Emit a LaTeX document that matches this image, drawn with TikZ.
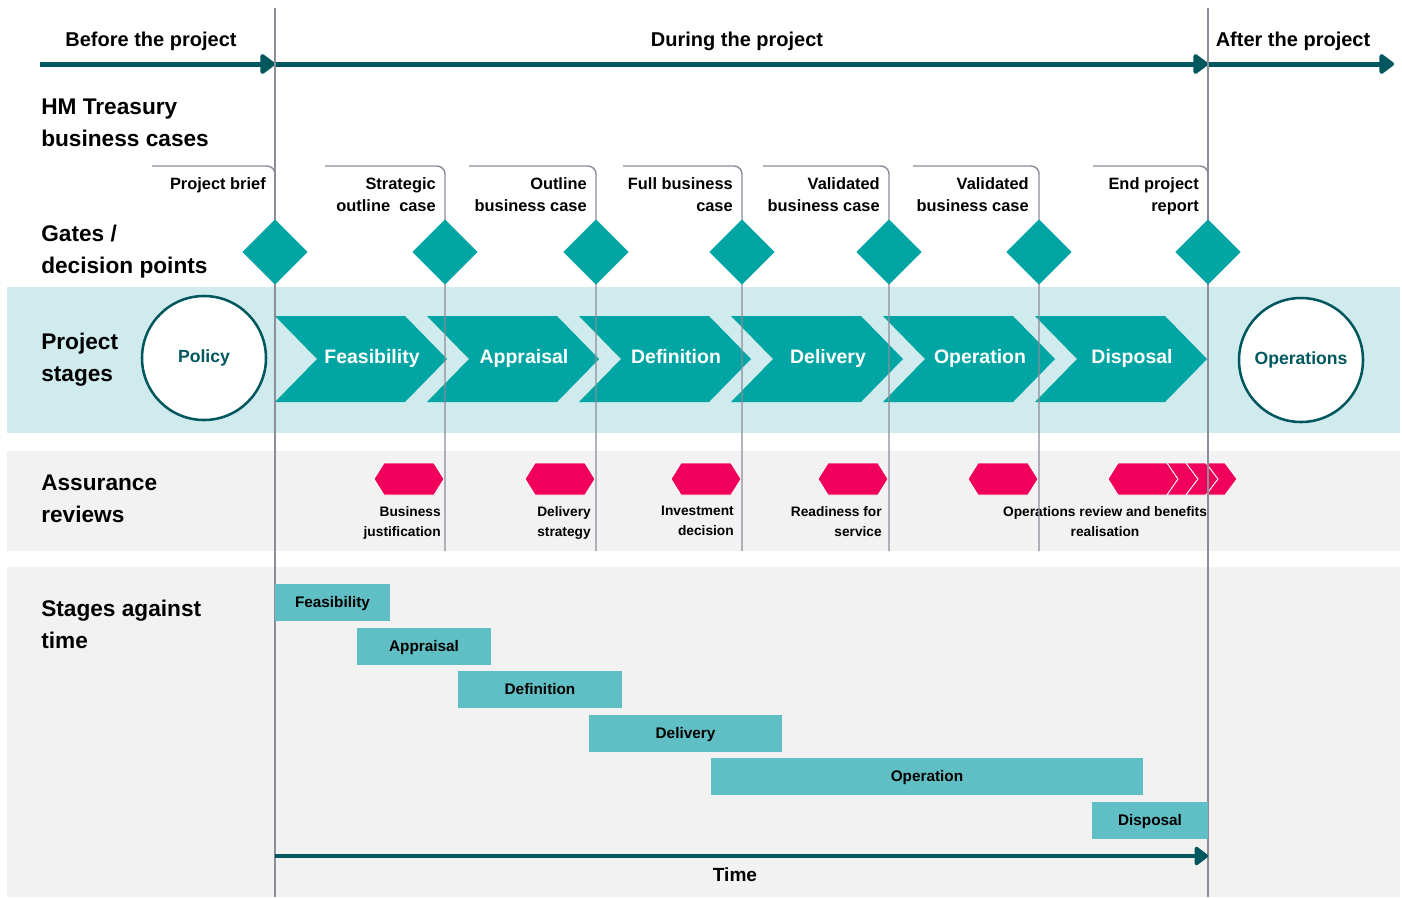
\documentclass[tikz,border=0pt]{standalone}
\usepackage{fontspec}
\setmainfont{Liberation Sans}
\usepackage{tikz}
\usetikzlibrary{shapes.geometric}
\usetikzlibrary{arrows.meta, positioning}

\definecolor{darkteal}{RGB}{0,88,94}
\definecolor{gateteal}{RGB}{0,165,164}
\definecolor{stageband}{RGB}{207,235,237}
\definecolor{greyband}{RGB}{242,242,242}
\definecolor{barteal}{RGB}{95,191,196}
\definecolor{reviewred}{RGB}{240,0,90}
\definecolor{linegrey}{RGB}{142,140,152}

\begin{document}
\begin{tikzpicture}[x = 0.75pt, y = -0.75pt, node distance = 114pt,
	phase/.style		= {font = \fontsize{15}{18}\selectfont\bfseries, inner sep = 0pt, text height = 10.7pt, text depth = 0pt},
	phasearrow/.style	= {darkteal, line width = 3.75pt, -{Triangle[round, length = 12pt, width = 17pt]}},
	timearrow/.style	= {darkteal, line width = 3pt, -{Triangle[round, length = 11pt, width = 16pt]}},
	rowlabel/.style		= {font = \fontsize{17}{24}\selectfont\bfseries, align = left, anchor = north west, inner sep = 0pt},
	gate/.style			= {diamond, fill = gateteal, minimum width = 49pt, minimum height = 49pt, inner sep = 0pt},
	gateline/.style		= {draw = linegrey, line width = 1.1pt},
	gatetext/.style		= {font = \fontsize{12.3}{16.5}\selectfont\bfseries, align = right, anchor = north east, inner sep = 0pt},
	stagename/.style	= {font = \fontsize{14.6}{17}\selectfont\bfseries, text = white, inner sep = 0pt, text height = 10.5pt, text depth = 0pt},
	review/.style		= {fill = reviewred, draw = white, line width = 0.6pt},
	reviewtext/.style	= {font = \fontsize{10.3}{15}\selectfont\bfseries, align = right, anchor = north east, inner sep = 0pt},
	ring/.style			= {circle, draw = darkteal, line width = 1.9pt, fill = white, minimum size = 93pt, inner sep = 0pt,
						   text = darkteal, font = \fontsize{13.2}{16}\selectfont\bfseries, text height = 9.5pt, text depth = 3pt},
	timebar/.style		= {fill = barteal, minimum height = 27.75pt, inner sep = 0pt,
						   font = \fontsize{11.5}{14}\selectfont\bfseries, text height = 8.2pt, text depth = 0pt}]

\useasboundingbox (0,0) rectangle (1402,897);

% background bands
\fill[stageband]	(7,287) rectangle (1400,433);
\fill[greyband]		(7,451) rectangle (1400,551);
\fill[greyband]		(7,567) rectangle (1400,897);

% before / during / after
\node[phase]	(before)	at (151,39)		{Before the project};
\node[phase]	(during)	at (737,39)		{During the project};
\node[phase]	(after)		at (1293,39)	{After the project};

\coordinate (a0) at (40,64);
\coordinate (a1) at (275,64);
\coordinate (a2) at (1208,64);
\coordinate (a3) at (1394,64);
\draw[phasearrow]	(a0) -- (a1);
\draw[phasearrow]	(a1) -- (a2);
\draw[phasearrow]	(a2) -- (a3);

% row headings
\node[rowlabel]	(hmt)		at (41,99)		{HM Treasury\\business cases};
\node[rowlabel]	(gates)		at (41,225)		{Gates /\\decision points};
\node[rowlabel]	(stages)	at (41,333)		{Project\\stages};
\node[rowlabel]	(assure)	at (41,475)		{Assurance\\reviews};
\node[rowlabel]	(sat)		at (41,600)		{Stages against\\time};

% stage chevrons
\fill[gateteal] (275,316)	-- ++(130,0) -- ++(42,43) -- ++(-42,43) -- ++(-130,0) -- ++(42,-43) -- cycle;
\fill[gateteal] (427,316)	-- ++(130,0) -- ++(42,43) -- ++(-42,43) -- ++(-130,0) -- ++(42,-43) -- cycle;
\fill[gateteal] (579,316)	-- ++(130,0) -- ++(42,43) -- ++(-42,43) -- ++(-130,0) -- ++(42,-43) -- cycle;
\fill[gateteal] (731,316)	-- ++(130,0) -- ++(42,43) -- ++(-42,43) -- ++(-130,0) -- ++(42,-43) -- cycle;
\fill[gateteal] (883,316)	-- ++(130,0) -- ++(42,43) -- ++(-42,43) -- ++(-130,0) -- ++(42,-43) -- cycle;
\fill[gateteal] (1035,316)	-- ++(130,0) -- ++(42,43) -- ++(-42,43) -- ++(-130,0) -- ++(42,-43) -- cycle;

\node[stagename]	(feas)						at (372,356)	{Feasibility};
\node[stagename]	(appr)	[right of=feas]						{Appraisal};
\node[stagename]	(defn)	[right of=appr]						{Definition};
\node[stagename]	(delv)	[right of=defn]						{Delivery};
\node[stagename]	(oper)	[right of=delv]						{Operation};
\node[stagename]	(disp)	[right of=oper]						{Disposal};

% assurance reviews
\filldraw[review] (374,479) -- ++(10,-16) -- ++(50,0) -- ++(10,16) -- ++(-10,16) -- ++(-50,0) -- cycle;
\filldraw[review] (525,479) -- ++(10,-16) -- ++(50,0) -- ++(10,16) -- ++(-10,16) -- ++(-50,0) -- cycle;
\filldraw[review] (671,479) -- ++(10,-16) -- ++(50,0) -- ++(10,16) -- ++(-10,16) -- ++(-50,0) -- cycle;
\filldraw[review] (818,479) -- ++(10,-16) -- ++(50,0) -- ++(10,16) -- ++(-10,16) -- ++(-50,0) -- cycle;
\filldraw[review] (968,479) -- ++(10,-16) -- ++(50,0) -- ++(10,16) -- ++(-10,16) -- ++(-50,0) -- cycle;
\filldraw[review] (1108,479) -- ++(10,-16) -- ++(49,0) -- ++(11,16) -- ++(-11,16) -- ++(-49,0) -- cycle;
\filldraw[review] (1167,463) -- ++(19,0) -- ++(12,16) -- ++(-12,16) -- ++(-19,0) -- ++(11,-16) -- cycle;
\filldraw[review] (1186,463) -- ++(20,0) -- ++(12,16) -- ++(-12,16) -- ++(-20,0) -- ++(12,-16) -- cycle;
\filldraw[review] (1206,463) -- ++(19,0) -- ++(12,16) -- ++(-12,16) -- ++(-19,0) -- ++(12,-16) -- cycle;

\node[reviewtext]	(rv1)	at (441,506)	{Business\\justification};
\node[reviewtext]	(rv2)	at (591,506)	{Delivery\\strategy};
\node[reviewtext]	(rv3)	at (734,506)	{Investment\\decision};
\node[reviewtext]	(rv4)	at (882,506)	{Readiness for\\service};
\node[reviewtext, align = center, anchor = north]	(rv5)	at (1105,506)	{Operations review and benefits\\realisation};

% project start and end lines
\coordinate (top1) at (275,8);
\coordinate (bot1) at (275,897);
\coordinate (top7) at (1208,8);
\coordinate (bot7) at (1208,897);
\draw[gateline]	(top1) -- (bot1);
\draw[gateline]	(top7) -- (bot7);

% business case brackets
\coordinate (bs1) at (152,166);		\coordinate (be1) at (275,230);
\coordinate (bs2) at (325,166);		\coordinate (be2) at (445,551);
\coordinate (bs3) at (469,166);		\coordinate (be3) at (596,551);
\coordinate (bs4) at (623,166);		\coordinate (be4) at (742,551);
\coordinate (bs5) at (763,166);		\coordinate (be5) at (889,551);
\coordinate (bs6) at (913,166);		\coordinate (be6) at (1039,551);
\coordinate (bs7) at (1093,166);	\coordinate (be7) at (1208,230);
\draw[gateline, rounded corners = 6pt]	(bs1) -| (be1);
\draw[gateline, rounded corners = 6pt]	(bs2) -| (be2);
\draw[gateline, rounded corners = 6pt]	(bs3) -| (be3);
\draw[gateline, rounded corners = 6pt]	(bs4) -| (be4);
\draw[gateline, rounded corners = 6pt]	(bs5) -| (be5);
\draw[gateline, rounded corners = 6pt]	(bs6) -| (be6);
\draw[gateline, rounded corners = 6pt]	(bs7) -| (be7);

% gates
\node[gate]	(g1)	at (275,252)	{};
\node[gate]	(g2)	at (445,252)	{};
\node[gate]	(g3)	at (596,252)	{};
\node[gate]	(g4)	at (742,252)	{};
\node[gate]	(g5)	at (889,252)	{};
\node[gate]	(g6)	at (1039,252)	{};
\node[gate]	(g7)	at (1208,252)	{};

\node[gatetext]	(pb)	at (266,177)	{Project brief};
\node[gatetext]	(soc)	at (436,177)	{Strategic\\outline\ \ case};
\node[gatetext]	(obc)	at (587,177)	{Outline\\business case};
\node[gatetext]	(fbc)	at (733,177)	{Full business\\case};
\node[gatetext]	(vbc)	at (880,177)	{Validated\\business case};
\node[gatetext]	(vbcb)	at (1029,177)	{Validated\\business case};
\node[gatetext]	(epr)	at (1199,177)	{End project\\report};

% policy and operations
\node[ring]	(pol)	at (204,358)	{Policy};
\node[ring]	(ops)	at (1301,360)	{Operations};

% stages against time
\node[timebar, minimum width = 86.25pt]	(tfeas)	at (332.5,602.5)	{Feasibility};
\node[timebar, minimum width = 100.5pt]	(tappr)	at (424,646)		{Appraisal};
\node[timebar, minimum width = 123pt]	(tdefn)	at (540,689.5)		{Definition};
\node[timebar, minimum width = 144.75pt]	(tdelv)	at (685.5,733.5)	{Delivery};
\node[timebar, minimum width = 324pt]	(toper)	at (927,776.5)		{Operation};
\node[timebar, minimum width = 87pt]	(tdisp)	at (1150,820.5)		{Disposal};

\coordinate (t0) at (275,856);
\coordinate (t1) at (1208,856);
\draw[timearrow]	(t0) -- (t1);
\node[phase, font = \fontsize{14.3}{17}\selectfont\bfseries]	(time)	at (735,874)	{Time};

\end{tikzpicture}
\end{document}
